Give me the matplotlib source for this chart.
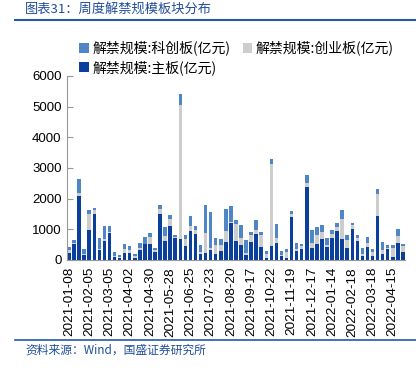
import matplotlib
matplotlib.use("Agg")
import matplotlib.pyplot as plt
import numpy as np
from matplotlib.lines import Line2D

plt.rcParams['font.family'] = ['Liberation Sans', 'Noto Sans CJK SC', 'DejaVu Sans']

dates = [
    "2021-01-08", "2021-01-15", "2021-01-22", "2021-01-29",
    "2021-02-05", "2021-02-12", "2021-02-19", "2021-02-26",
    "2021-03-05", "2021-03-12", "2021-03-19", "2021-03-26",
    "2021-04-02", "2021-04-09", "2021-04-16", "2021-04-23",
    "2021-04-30", "2021-05-07", "2021-05-14", "2021-05-21",
    "2021-05-28", "2021-06-04", "2021-06-11", "2021-06-18",
    "2021-06-25", "2021-07-02", "2021-07-09", "2021-07-16",
    "2021-07-23", "2021-07-30", "2021-08-06", "2021-08-13",
    "2021-08-20", "2021-08-27", "2021-09-03", "2021-09-10",
    "2021-09-17", "2021-09-24", "2021-10-08", "2021-10-15",
    "2021-10-22", "2021-10-29", "2021-11-05", "2021-11-12",
    "2021-11-19", "2021-11-26", "2021-12-03", "2021-12-10",
    "2021-12-17", "2021-12-24", "2021-12-31", "2022-01-07",
    "2022-01-14", "2022-01-21", "2022-01-28", "2022-02-11",
    "2022-02-18", "2022-02-25", "2022-03-04", "2022-03-11",
    "2022-03-18", "2022-03-25", "2022-04-01", "2022-04-08",
    "2022-04-15", "2022-04-22", "2022-04-29",
]

main_board = [
    240, 520, 2087, 150, 967, 1500, 315, 620, 880, 100,
    55, 240, 230, 65, 325, 510, 530, 260, 1500, 630,
    1098, 706, 695, 467, 957, 837, 196, 240, 315, 196,
    293, 598, 1217, 620, 490, 174, 576, 859, 424, 76,
    457, 543, 120, 76, 1391, 293, 348, 2391, 402, 511,
    696, 435, 707, 946, 696, 391, 1000, 620, 141, 424,
    120, 1446, 185, 359, 87, 554, 261,
]
chinext = [
    75, 35, 108, 55, 543, 120, 55, 54, 22, 20,
    45, 130, 110, 65, 75, 20, 220, 55, 175, 153,
    228, 44, 4370, 207, 152, 130, 54, 651, 85, 293,
    196, 337, 22, 565, 240, 54, 239, 130, 402, 131,
    2684, 185, 54, 174, 120, 55, 98, 109, 163, 293,
    206, 43, 152, 119, 630, 261, 141, 108, 66, 130,
    130, 717, 130, 43, 304, 229, 185,
]
star = [
    109, 85, 455, 145, 120, 86, 358, 424, 196, 130,
    75, 140, 105, 75, 165, 220, 140, 65, 120, 293,
    130, 76, 337, 141, 315, 131, 228, 892, 1154, 218,
    207, 717, 522, 130, 402, 435, 109, 315, 87, 97,
    142, 457, 109, 109, 98, 217, 87, 272, 413, 261,
    239, 229, 119, 152, 315, 163, 76, 76, 195, 185,
    120, 141, 272, 98, 109, 239, 87,
]

c_main = '#0A3F9C'
c_cx = '#CDCDCD'
c_star = '#4F86C6'
c_blue_text = '#1F4E9A'

fig = plt.figure(figsize=(4.16, 3.68), dpi=100)
ax = fig.add_axes([66.5/416, 1-260/368, (405.4-66.5)/416, (260-76)/368])

x = np.arange(len(dates))
m = np.array(main_board)
c = np.array(chinext)
s = np.array(star)
w = 0.7
b1 = ax.bar(x, m, width=w, color=c_main, label='解禁规模:主板(亿元)')
b2 = ax.bar(x, c, width=w, bottom=m, color=c_cx, label='解禁规模:创业板(亿元)')
b3 = ax.bar(x, s, width=w, bottom=m + c, color=c_star, label='解禁规模:科创板(亿元)')

ax.set_xlim(-0.5, len(dates) - 0.5)
ax.set_ylim(0, 6000)
ax.set_yticks(np.arange(0, 6001, 1000))
ax.set_xticks(x[::4])
ax.set_xticklabels(dates[::4], rotation=90, fontsize=9.7)
ax.tick_params(axis='y', labelsize=9.5, direction='in', length=4, color='#999999')
ax.tick_params(axis='x', length=0, pad=5)
for sp in ['top', 'right']:
    ax.spines[sp].set_visible(False)
ax.spines['left'].set_color('#999999')
ax.spines['bottom'].set_color('#999999')

handles = [b3, b1, b2]
labels = ['解禁规模:科创板(亿元)', '解禁规模:主板(亿元)', '解禁规模:创业板(亿元)']
fig.legend(handles, labels, loc='upper left', bbox_to_anchor=(72/416, 1-34/368),
           ncol=2, frameon=False, handlelength=0.7, handleheight=0.7,
           handletextpad=0.25, columnspacing=0.9, labelspacing=0.3, borderpad=0,
           prop={'family': ['Noto Sans CJK SC'], 'size': 10})

fig.text(25/416, 1-9/368, '图表31：周度解禁规模板块分布', color=c_blue_text,
         fontsize=9.5, va='center', ha='left', family=['Noto Sans CJK SC'])
fig.add_artist(Line2D([15/416, 1.0], [1-20/368, 1-20/368], color='#2558A8', lw=1.5,
                      transform=fig.transFigure))
fig.add_artist(Line2D([15/416, 1.0], [1-340/368, 1-340/368], color='#2558A8', lw=1.2,
                      transform=fig.transFigure))
fig.text(25/416, 1-350/368, '资料来源：Wind，国盛证券研究所', color=c_blue_text,
         fontsize=8.5, va='center', ha='left', family=['Noto Sans CJK SC', 'Liberation Sans'])

fig.savefig('out.png', dpi=100)
